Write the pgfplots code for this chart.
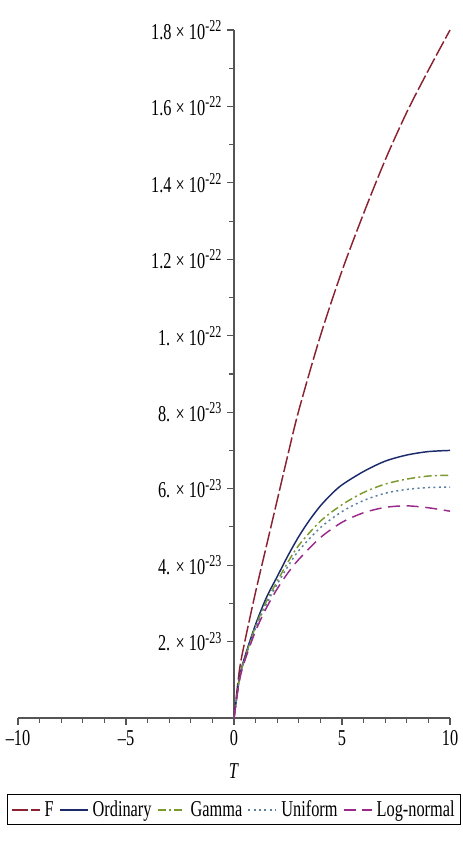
\documentclass[border=0pt]{standalone}
\usepackage{fontspec}
\setmainfont[FakeStretch=0.72]{Liberation Serif}
\usepackage{pgfplots}
\pgfplotsset{compat=1.18}
\definecolor{cF}{HTML}{8B2232}
\definecolor{cOrd}{HTML}{1B2A6B}
\definecolor{cGam}{HTML}{7B9A2C}
\definecolor{cUni}{HTML}{5A7FA0}
\definecolor{cLog}{HTML}{9A2A8A}
\definecolor{axgray}{HTML}{555555}
\newcommand{\sci}[2]{#1 × 10\raisebox{0.75ex}{\fontsize{12.5}{13}\selectfont -#2}}
\begin{document}
\begin{tikzpicture}
\begin{axis}[
    scale only axis,
    width=324pt, height=516pt,
    axis lines=middle,
    axis line style={axgray, line width=1pt, -},
    xmin=-10, xmax=10, ymin=0, ymax=18,
    xtick={-10,-5,0,5,10},
    xticklabels={--10,--5,0,5,10},
    hide obscured x ticks=false,
    minor x tick num=4,
    ytick={2,4,...,18},
    yticklabels={\sci{2.}{23},\sci{4.}{23},\sci{6.}{23},\sci{8.}{23},
      \sci{1.}{22},\sci{1.2}{22},\sci{1.4}{22},\sci{1.6}{22},\sci{1.8}{22}},
    minor y tick num=1,
    tick align=outside,
    major tick length=5pt,
    minor tick length=3.5pt,
    tick style={axgray, line width=0.8pt},
    font=\fontsize{17}{19}\selectfont,
    xticklabel style={yshift=-1pt},
    yticklabel style={xshift=-1pt},
    xlabel={\textit{T}},
    every axis x label/.style={at={(axis description cs:0.5,0)}, anchor=north, yshift=-31pt},
    legend columns=5,
    legend style={at={(axis description cs:0.5,0)}, anchor=north, yshift=-57pt,
      draw, line width=1pt, inner sep=2.5pt,
      /tikz/every odd column/.append style={column sep=1pt},
      /tikz/every even column/.append style={column sep=2pt}},
    legend cell align=left,
    legend image code/.code={\draw[#1, line width=1.3pt] (0pt,0pt) -- (21pt,0pt);},
    every axis plot/.append style={line width=1.1pt, smooth},
    clip=false,
]
% F
\addplot[color=cF, dash pattern=on 12pt off 2.5pt] coordinates {
(0,0) (0.25,1.25) (0.5,2.0) (1,3.3) (1.5,4.5) (2,5.7) (2.5,6.9) (3,8.05)
(4,10.0) (5,11.7) (6,13.2) (7,14.6) (8,15.85) (9,16.95) (10,18.0)};
% Ordinary
\addplot[color=cOrd] coordinates {
(0,0) (0.25,1.05) (0.5,1.6) (1,2.45) (1.5,3.15) (2,3.7) (2.5,4.25) (3,4.75)
(3.5,5.18) (4,5.55) (4.5,5.85) (5,6.1) (6,6.45) (7,6.72) (8,6.88) (9,6.97) (10,7.0)};
% Gamma
\addplot[color=cGam, dash pattern=on 6pt off 2.5pt on 1.5pt off 2.5pt] coordinates {
(0,0) (0.25,1.02) (0.5,1.56) (1,2.4) (1.5,3.05) (2,3.58) (2.5,4.08) (3,4.52)
(4,5.15) (5,5.58) (6,5.9) (7,6.12) (8,6.25) (9,6.33) (10,6.35)};
% Uniform
\addplot[color=cUni, dash pattern=on 1.5pt off 2.5pt] coordinates {
(0,0) (0.25,1.0) (0.5,1.54) (1,2.35) (1.5,2.98) (2,3.5) (2.5,3.97) (3,4.38)
(4,4.98) (5,5.4) (6,5.69) (7,5.88) (8,5.98) (9,6.03) (10,6.04)};
% Log-normal
\addplot[color=cLog, dash pattern=on 9pt off 5pt] coordinates {
(0,0) (0.25,0.97) (0.5,1.5) (1,2.28) (1.5,2.88) (2,3.38) (2.5,3.8) (3,4.15)
(4,4.72) (5,5.12) (6,5.37) (7,5.51) (8,5.55) (9,5.5) (10,5.41)};
\legend{F,Ordinary,Gamma,Uniform,Log-normal}
\path (axis description cs:-0.0417,1.0436) (axis description cs:1.030,-0.1846);
\end{axis}
\end{tikzpicture}
\end{document}
